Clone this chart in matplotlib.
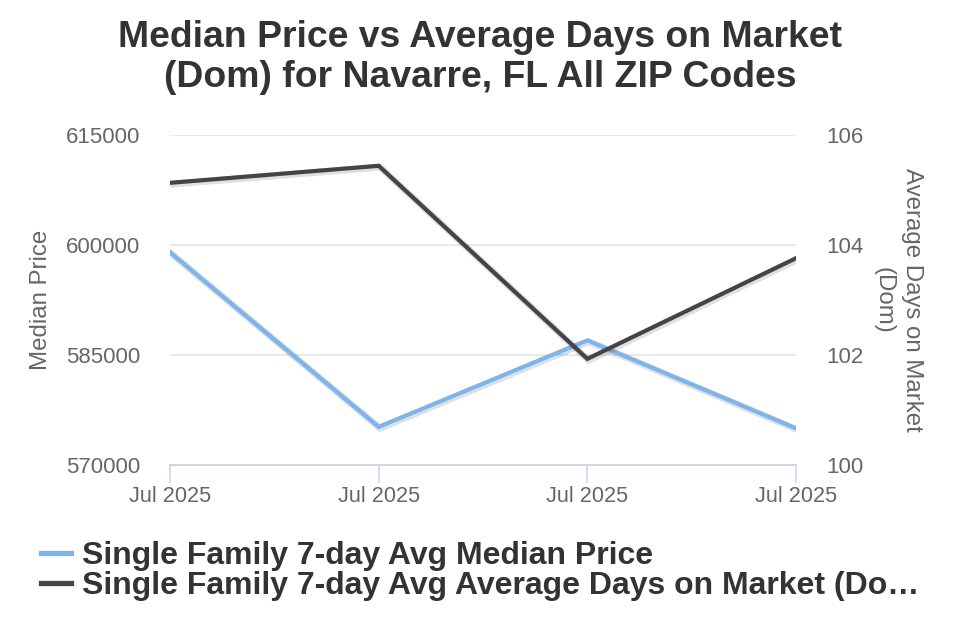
import matplotlib
matplotlib.use("Agg")
import matplotlib.pyplot as plt
import matplotlib.patheffects as pe
from matplotlib.lines import Line2D

categories = ["Jul 2025", "Jul 2025", "Jul 2025", "Jul 2025"]
median_price = [599000, 575200, 587000, 575000]
days_on_market = [105.13, 105.44, 101.93, 103.76]
left_ticks = [570000, 585000, 600000, 615000]
right_ticks = [100, 102, 104, 106]

title = "Median Price vs Average Days on Market\n(Dom) for Navarre, FL All ZIP Codes"
series_names = ["Single Family 7-day Avg Median Price",
                "Single Family 7-day Avg Average Days on Market (Do\u2026"]

BLUE = "#7cb5ec"
DARK = "#434348"
TICK = "#666666"

plt.rcParams['font.family'] = ['Liberation Sans', 'DejaVu Sans']

fig = plt.figure(figsize=(9.6, 6.4), dpi=100)
ax = fig.add_axes([170/960, 1-465/640, (796-170)/960, 330/640])
ax2 = ax.twinx()

x = list(range(len(categories)))
shadow = [pe.SimpleLineShadow(offset=(1, -1), shadow_color='#000000', alpha=0.12, linewidth=5), pe.Normal()]
ax.plot(x, median_price, color=BLUE, lw=3, solid_joinstyle='miter', path_effects=shadow, zorder=3)
ax2.plot(x, days_on_market, color=DARK, lw=3, solid_joinstyle='miter', path_effects=shadow, zorder=3)

ax.set_xlim(0, 3)
ax.set_ylim(570000, 615000)
ax2.set_ylim(100, 106)
ax.set_yticks(left_ticks)
ax.set_yticklabels([str(v) for v in left_ticks])
ax2.set_yticks(right_ticks)
ax2.set_yticklabels([str(v) for v in right_ticks])
ax.set_xticks(x)
ax.set_xticklabels(categories)

ax.grid(axis='y', color='#e6e6e6', lw=1.2)
ax.set_axisbelow(True)
for a in (ax, ax2):
    for s in ('top', 'left', 'right'):
        a.spines[s].set_visible(False)
    a.spines['bottom'].set_color('#ccd6eb')
    a.spines['bottom'].set_linewidth(1.2)
ax.tick_params(axis='y', length=0, pad=21.6, labelsize=16, labelcolor=TICK)
ax2.tick_params(axis='y', length=0, pad=21.6, labelsize=16, labelcolor=TICK)
ax.tick_params(axis='x', length=13, width=1.2, color='#ccd6eb', labelsize=15.6, labelcolor=TICK, pad=2)
ax2.tick_params(axis='x', length=0)

ax.set_ylabel("Median Price", fontsize=17.3, color=TICK, labelpad=10)
ax2.set_ylabel("Average Days on Market\n(Dom)", fontsize=17.3, color=TICK, rotation=270, labelpad=43, linespacing=1.4)

fig.text(0.5, 1-57.5/640, title, ha='center', va='center', fontsize=26.9, fontweight='bold',
         color='#333333', linespacing=1.17)

handles = [Line2D([], [], color=BLUE, lw=3.8), Line2D([], [], color=DARK, lw=3.8)]
leg = fig.legend(handles, series_names, loc='upper left', bbox_to_anchor=(41/960, 1-541/640),
                 frameon=False, handlelength=0.95, handletextpad=0.34, labelspacing=0.01,
                 borderpad=0, borderaxespad=0,
                 prop={'weight': 'bold', 'size': 23})
for t in leg.get_texts():
    t.set_color('#333333')

fig.savefig("out.png", dpi=100)
